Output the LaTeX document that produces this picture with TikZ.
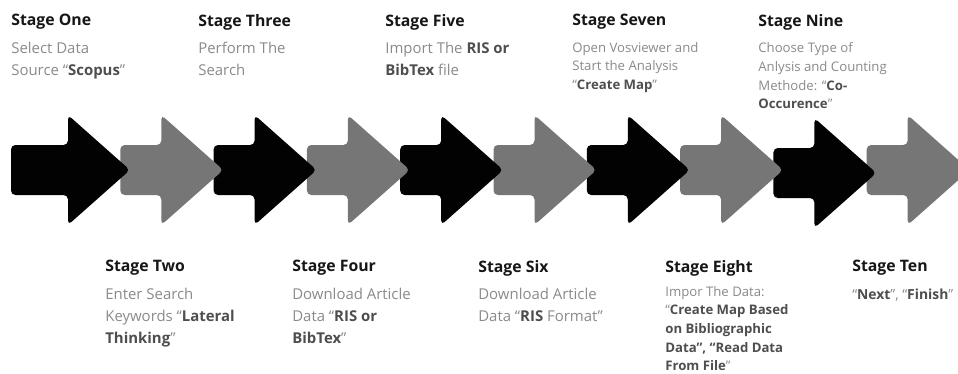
\documentclass[tikz,border=0pt]{standalone}
\usepackage{fontspec}
\setmainfont{Open Sans}
\usepackage{xcolor}
\usetikzlibrary{positioning}
\definecolor{arrowgray}{RGB}{118,118,118}
\definecolor{arrowblack}{RGB}{2,2,2}
\definecolor{headblack}{RGB}{22,22,22}
\definecolor{bodygray}{RGB}{138,138,138}
\definecolor{boldgray}{RGB}{78,78,78}
\newcommand{\stagehead}[1]{{\fontsize{9}{11}\selectfont\bfseries\color{headblack}#1}}
\newcommand{\kw}[1]{{\bfseries\color{boldgray}#1}}

\begin{document}
\begin{tikzpicture}[x=0.02cm, y=-0.02cm,
  stagetext/.style={anchor=north west, inner sep=0pt, align=left, text=bodygray,
    font=\fontsize{8.5}{12.6}\selectfont},
  stagesmall/.style={stagetext, font=\fontsize{7.5}{10.6}\selectfont},
  arrowshape/.style={rounded corners=2.5pt}]
  \useasboundingbox (0,0) rectangle (958,373);
  \clip (0,0) rectangle (958,373);

  % Arrows (last one first, so every head lies over the next shaft)
  % base x of head / colour / centre y
  \foreach \b/\col/\c in {907.7/arrowgray/170, 814.4/arrowblack/173, 721.1/arrowgray/170,
      627.8/arrowblack/170, 534.5/arrowgray/170, 441.2/arrowblack/170, 347.9/arrowgray/170,
      254.6/arrowblack/170, 161.3/arrowgray/170} {
    \fill[\col, arrowshape] (\b-41,\c-25) -- (\b,\c-25) -- (\b,\c-55) -- (\b+62,\c)
      -- (\b,\c+55) -- (\b,\c+25) -- (\b-41,\c+25) -- cycle;
  }
  \fill[arrowblack, arrowshape] (11,145) -- (68,145) -- (68,115) -- (130,170)
    -- (68,225) -- (68,195) -- (11,195) -- cycle;

  % Stages above the arrows
  \node[stagetext] (one) at (11,14) {\stagehead{Stage One}\\[3pt]
    Select Data\\Source “\kw{Scopus}”};
  \node[stagetext] (three) at (198,14) {\stagehead{Stage Three}\\[3pt]
    Perform The\\Search};
  \node[stagetext] (five) at (385,14) {\stagehead{Stage Five}\\[3pt]
    Import The \kw{RIS or}\\\kw{BibTex} file};
  \node[stagesmall] (seven) at (572,14) {\stagehead{Stage Seven}\\[4.5pt]
    Open Vosviewer and\\Start the Analysis\\“\kw{Create Map}”};
  \node[stagesmall] (nine) at (758,14) {\stagehead{Stage Nine}\\[4.5pt]
    Choose Type of\\Anlysis and Counting\\Methode: “\kw{Co-}\\\kw{Occurence}”};

  % Stages below the arrows
  \node[stagetext] (two) at (105,260) {\stagehead{Stage Two}\\[3pt]
    Enter Search\\Keywords “\kw{Lateral}\\\kw{Thinking}”};
  \node[stagetext] (four) at (292,260) {\stagehead{Stage Four}\\[3pt]
    Download Article\\Data “\kw{RIS or}\\\kw{BibTex}”};
  \node[stagetext] (six) at (478,260) {\stagehead{Stage Six}\\[3pt]
    Download Article\\Data “\kw{RIS} Format”};
  \node[stagesmall] (eight) at (665,260) {\stagehead{Stage Eight}\\[3pt]
    Impor The Data:\\“\kw{Create Map Based}\\\kw{on Bibliographic}\\\kw{Data”, “Read Data}\\\kw{From File}”};
  \node[stagetext, font=\fontsize{7.9}{12.6}\selectfont] (ten) at (852,260) {\stagehead{Stage Ten}\\[3pt]
    “\kw{Next}”, “\kw{Finish}”};
\end{tikzpicture}
\end{document}
